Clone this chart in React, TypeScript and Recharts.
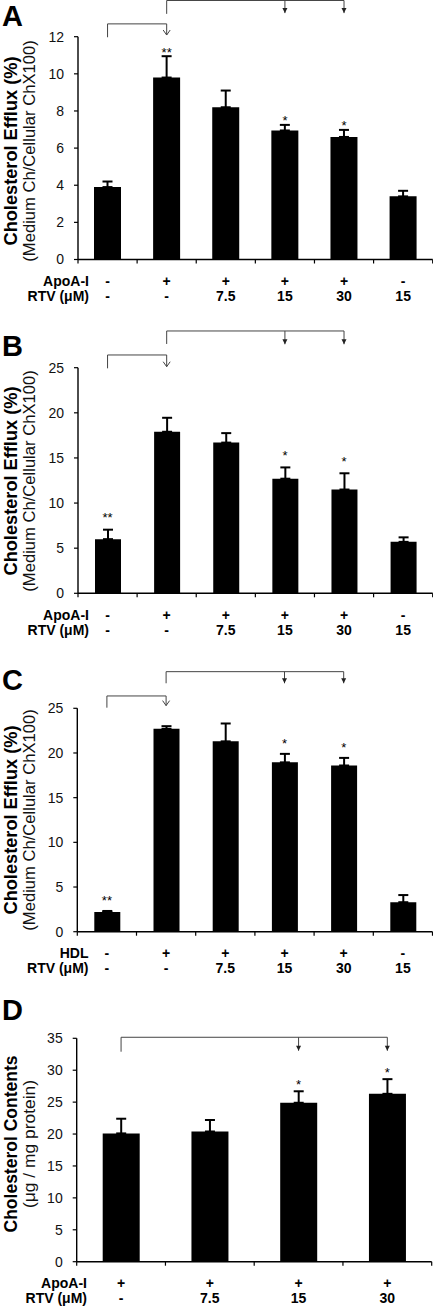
import React from 'react';
import { ComposedChart, Bar, ErrorBar, Line, XAxis, YAxis, ReferenceLine, ReferenceDot } from 'recharts';

// Panel A - efflux to ApoA-I
const apoaA = ['-', '+', '+', '+', '+', '-'];
const rtvA = ['-', '-', '7.5', '15', '30', '15'];
const effluxA = [3.9, 9.8, 8.2, 6.95, 6.6, 3.4];
const errA = [0.3, 1.15, 0.9, 0.3, 0.38, 0.3];
const sigA = ['', '**', '', '*', '*', ''];
const ticksA = [0, 2, 4, 6, 8, 10, 12];

// Panel B - efflux to ApoA-I
const apoaB = ['-', '+', '+', '+', '+', '-'];
const rtvB = ['-', '-', '7.5', '15', '30', '15'];
const effluxB = [6.0, 17.9, 16.7, 12.7, 11.5, 5.7];
const errB = [1.05, 1.55, 1.05, 1.25, 1.8, 0.5];
const sigB = ['**', '', '', '*', '*', ''];
const ticksB = [0, 5, 10, 15, 20, 25];

// Panel C - efflux to HDL
const hdlC = ['-', '+', '+', '+', '+', '-'];
const rtvC = ['-', '-', '7.5', '15', '30', '15'];
const effluxC = [2.2, 22.7, 21.3, 18.95, 18.6, 3.3];
const errC = [0.12, 0.3, 2.0, 0.95, 0.85, 0.8];
const sigC = ['**', '', '', '*', '*', ''];
const ticksC = [0, 5, 10, 15, 20, 25];

// Panel D - cholesterol contents
const apoaD = ['+', '+', '+', '+'];
const rtvD = ['-', '7.5', '15', '30'];
const contentD = [20.1, 20.4, 24.9, 26.3];
const errD = [2.3, 1.8, 1.8, 2.3];
const sigD = ['', '', '*', '*'];
const ticksD = [0, 5, 10, 15, 20, 25, 30, 35];

const FONT = '"Liberation Sans", Arial, Helvetica, sans-serif';
const W = 433;
const Y_W = 60;
const X_H = 48;
const ROW1 = 26.5;
const ROW2 = 41.5;
const BRACKET = '#444';

const makeData = (row1: string[], rtv: string[], vals: number[], errs: number[], sig: string[]) =>
  vals.map((v, i) => ({
    key: `${row1[i]}|${rtv[i]}`,
    value: v,
    errRange: [0, errs[i]],
    errTop: v + errs[i],
    sig: sig[i],
  }));

const panels = [
  {
    letter: 'A', top: 0, height: 320, letterBase: 25.8,
    plotTop: 36.7, plotBottom: 259.5, plotLeft: 78, plotRight: 432.7,
    data: makeData(apoaA, rtvA, effluxA, errA, sigA),
    ticks: ticksA, barSize: 27,
    row1: 'ApoA-I', labelRight: 89,
    title: 'Cholesterol Efflux (%)', sub: '(Medium Ch/Cellular ChX100)', titleSize: 18.2, subSize: 16.6,
    titleCenter: 151, starGap: 7,
    brackets: [
      { from: 0, to: 1, level: 12.69, legEnd: 11.97, arrows: [1], tip: 12.09, head: 'open' },
      { from: 1, to: 4, level: 13.95, legEnd: 13.23, arrows: [3, 4], tip: 13.27, head: 'filled' },
    ],
  },
  {
    letter: 'B', top: 320, height: 330, letterBase: 36,
    plotTop: 367.7, plotBottom: 593.3, plotLeft: 78, plotRight: 432.7,
    data: makeData(apoaB, rtvB, effluxB, errB, sigB),
    ticks: ticksB, barSize: 26,
    row1: 'ApoA-I', labelRight: 89,
    title: 'Cholesterol Efflux (%)', sub: '(Medium Ch/Cellular ChX100)', titleSize: 18.2, subSize: 16.6,
    titleCenter: 161, starGap: 15,
    brackets: [
      { from: 0, to: 1, level: 26.41, legEnd: 24.93, arrows: [1], tip: 25.11, head: 'open' },
      { from: 1, to: 4, level: 29.07, legEnd: 27.63, arrows: [3, 4], tip: 27.6, head: 'filled' },
    ],
  },
  {
    letter: 'C', top: 650, height: 335, letterBase: 40,
    plotTop: 708.3, plotBottom: 931.7, plotLeft: 77.3, plotRight: 432.5,
    data: makeData(hdlC, rtvC, effluxC, errC, sigC),
    ticks: ticksC, barSize: 26,
    row1: 'HDL', labelRight: 88.5,
    title: 'Cholesterol Efflux (%)', sub: '(Medium Ch/Cellular ChX100)', titleSize: 18.2, subSize: 16.6,
    titleCenter: 170, starGap: 13,
    brackets: [
      { from: 0, to: 1, level: 26.38, legEnd: 25.07, arrows: [1], tip: 25.3, head: 'open' },
      { from: 1, to: 4, level: 29.1, legEnd: 27.8, arrows: [3, 4], tip: 27.8, head: 'filled' },
    ],
  },
  {
    letter: 'D', top: 990, height: 321, letterBase: 30,
    plotTop: 1038.3, plotBottom: 1261.7, plotLeft: 76.7, plotRight: 431.7,
    data: makeData(apoaD, rtvD, contentD, errD, sigD),
    ticks: ticksD, barSize: 37,
    row1: 'ApoA-I', labelRight: 87,
    title: 'Cholesterol Contents', sub: '(\u03bcg / mg protein)', titleSize: 17.5, subSize: 17.4,
    titleCenter: 154, starGap: 9.5,
    brackets: [
      { from: 0, to: 3, level: 35.16, legEnd: 32.9, arrows: [2, 3], tip: 33.05, head: 'filled' },
    ],
  },
];

type PanelCfg = (typeof panels)[number];

// two rows of condition labels under each bar, plus tick marks on the group boundaries
const CatTick = (props: any) => {
  const { x, y, payload, index, half, last } = props;
  const [r1, r2] = String(payload.value).split('|');
  return (
    <g>
      <line x1={x - half} y1={y} x2={x - half} y2={y + 4} stroke="#000" strokeWidth={1.2} />
      {index === last && <line x1={x + half} y1={y} x2={x + half} y2={y + 4} stroke="#000" strokeWidth={1.2} />}
      <text x={x} y={y + ROW1} textAnchor="middle" fontSize={14} fontWeight="bold" fill="#000">{r1}</text>
      <text x={x} y={y + ROW2} textAnchor="middle" fontSize={14} fontWeight="bold" fill="#000">{r2}</text>
    </g>
  );
};

const arrowHead = (head: string) => (p: any) => {
  const { cx, cy } = p;
  if (head === 'open') {
    return <path d={`M${cx - 3.5},${cy - 5} L${cx},${cy} L${cx + 3.5},${cy - 5}`} fill="none" stroke={BRACKET} strokeWidth={1} />;
  }
  return <path d={`M${cx - 2.5},${cy - 5} L${cx + 2.5},${cy - 5} L${cx},${cy} Z`} fill="#222" stroke="none" />;
};

function Panel({ cfg }: { cfg: PanelCfg }) {
  const n = cfg.data.length;
  const keys = cfg.data.map((d) => d.key);
  const yMax = cfg.ticks[cfg.ticks.length - 1];
  const half = (cfg.plotRight - cfg.plotLeft) / n / 2;
  const margin = {
    top: cfg.plotTop - cfg.top,
    right: W - cfg.plotRight,
    left: cfg.plotLeft - Y_W,
    bottom: cfg.height - (cfg.plotBottom - cfg.top) - X_H,
  };

  const refs: React.ReactElement[] = [];
  cfg.brackets.forEach((b, bi) => {
    refs.push(
      <ReferenceLine key={`h${bi}`} ifOverflow="visible" stroke={BRACKET} strokeWidth={1}
        segment={[{ x: keys[b.from], y: b.level }, { x: keys[b.to], y: b.level }]} />,
      <ReferenceLine key={`l${bi}`} ifOverflow="visible" stroke={BRACKET} strokeWidth={1}
        segment={[{ x: keys[b.from], y: b.level }, { x: keys[b.from], y: b.legEnd }]} />,
    );
    b.arrows.forEach((a) => {
      refs.push(
        <ReferenceLine key={`a${bi}-${a}`} ifOverflow="visible" stroke={BRACKET} strokeWidth={1}
          segment={[{ x: keys[a], y: b.level }, { x: keys[a], y: b.tip }]} />,
        <ReferenceDot key={`d${bi}-${a}`} ifOverflow="visible" x={keys[a]} y={b.tip} r={3}
          shape={arrowHead(b.head)} />,
      );
    });
  });

  const star = (p: any) => {
    const { cx, cy, payload, index } = p;
    if (!payload || !payload.sig) return <g key={`s${index}`} />;
    return (
      <text key={`s${index}`} x={cx} y={cy - cfg.starGap + 7.4} textAnchor="middle" fontSize={13} fill="#000">
        {payload.sig}
      </text>
    );
  };

  const local = (v: number) => v - cfg.top;

  return (
    <div style={{ position: 'absolute', left: 0, top: cfg.top, width: W, height: cfg.height }}>
      <ComposedChart width={W} height={cfg.height} data={cfg.data} margin={margin}>
        <XAxis
          dataKey="key"
          type="category"
          height={X_H}
          interval={0}
          tickLine={false}
          tickSize={0}
          tickMargin={0}
          axisLine={{ stroke: '#000', strokeWidth: 1.4 }}
          tick={<CatTick half={half} last={n - 1} />}
        />
        <YAxis
          domain={[0, yMax]}
          ticks={cfg.ticks}
          allowDataOverflow
          width={Y_W}
          tickSize={4}
          tickMargin={10}
          tickLine={{ stroke: '#000', strokeWidth: 1.2 }}
          axisLine={{ stroke: '#000', strokeWidth: 1.4 }}
          tick={{ fontSize: 14, fill: '#111', fontFamily: FONT }}
        />
        <Bar dataKey="value" fill="#000" barSize={cfg.barSize} isAnimationActive={false}>
          <ErrorBar dataKey="errRange" direction="y" width={5} stroke="#000" strokeWidth={2} />
        </Bar>
        <Line dataKey="errTop" stroke="none" dot={star} activeDot={false}
          legendType="none" isAnimationActive={false} />
        {refs}
      </ComposedChart>
      <svg width={W} height={cfg.height} style={{ position: 'absolute', left: 0, top: 0, pointerEvents: 'none' }}>
        <text x={2} y={cfg.letterBase} fontSize={29} fontWeight="bold" fill="#000">{cfg.letter}</text>
        <text x={16.7} y={cfg.titleCenter} transform={`rotate(-90 16.7 ${cfg.titleCenter})`} textAnchor="middle"
          fontSize={cfg.titleSize} fontWeight="bold" fill="#000">{cfg.title}</text>
        <text x={34.5} y={cfg.titleCenter} transform={`rotate(-90 34.5 ${cfg.titleCenter})`} textAnchor="middle"
          fontSize={cfg.subSize} fill="#111">{cfg.sub}</text>
        <text x={cfg.labelRight} y={local(cfg.plotBottom) + ROW1} textAnchor="end" fontSize={14} fontWeight="bold" fill="#000">
          {cfg.row1}
        </text>
        <text x={cfg.labelRight} y={local(cfg.plotBottom) + ROW2} textAnchor="end" fontSize={14} fontWeight="bold" fill="#000">
          RTV ({'\u03bc'}M)
        </text>
      </svg>
    </div>
  );
}

export default function App() {
  return (
    <div style={{ position: 'absolute', left: 0, top: 0, width: W, height: 1311, background: '#fff', fontFamily: FONT }}>
      {panels.map((p) => (
        <Panel key={p.letter} cfg={p} />
      ))}
    </div>
  );
}
